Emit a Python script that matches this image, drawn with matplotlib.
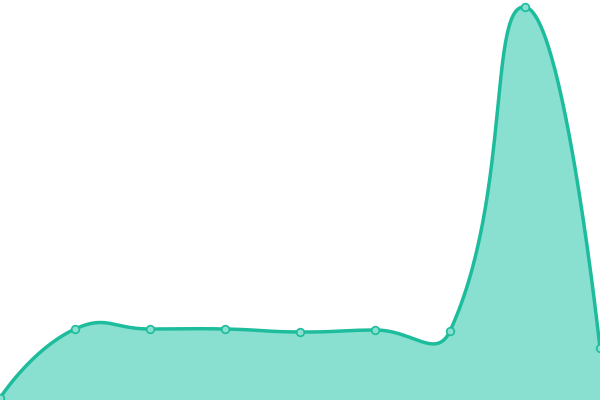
import numpy as np
import matplotlib
matplotlib.use("Agg")
from matplotlib import pyplot as plt

# data (value axis 0..400)
positions = [0, 1, 2, 3, 4, 5, 6, 7, 8]
values = [2, 71, 71, 71, 68, 70, 69, 393, 52]

line_color = "#1dbc9c"
fill_color = "#89e0d0"
smooth = 0.5


def smooth_path(px, py):
    # bezier smoothing done in screen space, control points from neighbour vectors
    pts = np.column_stack([px, py])
    n = len(pts)
    cps = []
    for i in range(n):
        if i == 0 or i == n - 1:
            cps.append((pts[i].copy(), pts[i].copy()))
            continue
        v = (pts[i + 1] - pts[i - 1]) * smooth
        d0 = np.hypot(*(pts[i] - pts[i - 1]))
        d1 = np.hypot(*(pts[i] - pts[i + 1]))
        s = d0 + d1
        cps.append((pts[i] - v * d0 / s, pts[i] + v * d1 / s))
    t = np.linspace(0, 1, 60)[:, None]
    segs = []
    for i in range(n - 1):
        p0, p3 = pts[i], pts[i + 1]
        c1, c2 = cps[i][1], cps[i + 1][0]
        seg = ((1 - t) ** 3) * p0 + 3 * ((1 - t) ** 2) * t * c1 + 3 * (1 - t) * t ** 2 * c2 + t ** 3 * p3
        segs.append(seg if i == 0 else seg[1:])
    return np.vstack(segs)


fig = plt.figure(figsize=(6, 4), dpi=100)
ax = fig.add_axes([0, 0, 1, 1])
ax.set_xlim(0, 8)
ax.set_ylim(0, 400)
ax.axis("off")

screen = ax.transData.transform(np.column_stack([positions, values]))
curve = smooth_path(screen[:, 0], screen[:, 1])
curve = ax.transData.inverted().transform(curve)

ax.fill_between(curve[:, 0], curve[:, 1], 0, color=fill_color, lw=0)
ax.plot(curve[:, 0], curve[:, 1], color=line_color, lw=2.5, solid_capstyle="round")
ax.plot(positions, values, "o", ms=5.5, mfc=fill_color, mec=line_color, mew=1.2,
        clip_on=False, zorder=5)

fig.savefig("out.png", dpi=100)
